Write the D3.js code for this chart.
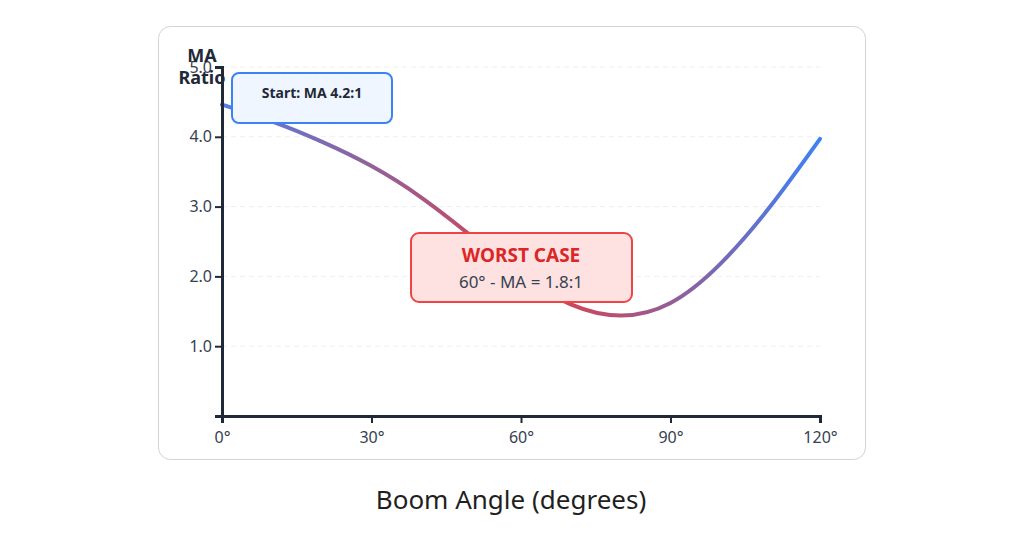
<!DOCTYPE html>
<html><head><meta charset="utf-8">
<script src="https://cdn.jsdelivr.net/npm/d3@7"></script>
<style>
body{margin:0;background:#fff;font-family:"Segoe UI","Noto Sans","Open Sans",sans-serif;}
</style></head>
<body><div id="chart"></div>
<script>
// boom angle vs mechanical advantage
const angles = [0, 10, 20, 30, 40, 50, 60, 70, 80, 90, 100, 110, 120];
const maValues = [4.46, 4.22, 3.93, 3.58, 3.13, 2.58, 2.02, 1.6, 1.44, 1.62, 2.18, 3.0, 3.97];
const xTicks = [0, 30, 60, 90, 120];
const yTicks = [1, 2, 3, 4, 5];

const W = 1024, H = 536;
const margin = {left: 222, right: 204, top: 67, bottom: 120};
const svg = d3.select("#chart").append("svg").attr("width", W).attr("height", H);

// card
svg.append("rect").attr("x", 158.5).attr("y", 26.5).attr("width", 707).attr("height", 433)
    .attr("rx", 12).attr("fill", "#fff").attr("stroke", "#d4d4d8").attr("stroke-width", 1);

const x = d3.scaleLinear().domain([0, 120]).range([margin.left, W - margin.right]);
const y = d3.scaleLinear().domain([0, 5]).range([H - margin.bottom, margin.top]);

// gradient
const defs = svg.append("defs");
const grad = defs.append("linearGradient").attr("id", "lineGrad")
    .attr("gradientUnits", "userSpaceOnUse")
    .attr("x1", x(0)).attr("x2", x(120)).attr("y1", 0).attr("y2", 0);
[[0, "#4f7fe6"], [0.45, "#c9485e"], [0.6, "#c9485e"], [1, "#3b82f6"]].forEach(s =>
    grad.append("stop").attr("offset", s[0]).attr("stop-color", s[1]));

// grid
svg.append("g").selectAll("line").data(yTicks).join("line")
    .attr("x1", x(0)).attr("x2", x(120))
    .attr("y1", d => y(d)).attr("y2", d => y(d))
    .attr("stroke", "#eceef1").attr("stroke-dasharray", "5,4");

// line
const line = d3.line().x((d, i) => x(angles[i])).y(d => y(d)).curve(d3.curveNatural);
svg.append("path").datum(maValues).attr("d", line)
    .attr("fill", "none").attr("stroke", "url(#lineGrad)").attr("stroke-width", 4)
    .attr("stroke-linecap", "round");

// axes
const xAxis = svg.append("g").attr("transform", `translate(0,${y(0)})`)
    .call(d3.axisBottom(x).tickValues(xTicks).tickFormat(d => d + "°").tickSizeOuter(0).tickSize(7));
const yAxis = svg.append("g").attr("transform", `translate(${x(0)},0)`)
    .call(d3.axisLeft(y).tickValues(yTicks).tickFormat(d3.format(".1f")).tickSizeOuter(0).tickSize(7));
[xAxis, yAxis].forEach(a => {
    a.select(".domain").attr("stroke", "#1f2937").attr("stroke-width", 3);
    a.selectAll(".tick line").attr("stroke", "#1f2937").attr("stroke-width", 2);
    a.selectAll("text").attr("font-size", 16).attr("fill", "#374151")
        .attr("font-family", "'Segoe UI','Noto Sans',sans-serif");
});
xAxis.selectAll("text").attr("dy", "1.05em");

// y label
const yl = svg.append("text").attr("font-size", 18).attr("font-weight", "bold")
    .attr("fill", "#1f2937").attr("text-anchor", "middle");
yl.append("tspan").attr("x", 202).attr("y", 62).text("MA");
yl.append("tspan").attr("x", 202).attr("y", 84).text("Ratio");

// start annotation
svg.append("rect").attr("x", 232).attr("y", 73).attr("width", 160).attr("height", 50).attr("rx", 7)
    .attr("fill", "#eff6ff").attr("stroke", "#3b82f6").attr("stroke-width", 2);
svg.append("text").attr("x", 312).attr("y", 98).attr("text-anchor", "middle")
    .attr("font-size", 14).attr("font-weight", "bold").attr("fill", "#1f2937").text("Start: MA 4.2:1");

// worst case annotation
svg.append("rect").attr("x", 411).attr("y", 233).attr("width", 221).attr("height", 69).attr("rx", 8)
    .attr("fill", "#fee2e2").attr("stroke", "#ef4444").attr("stroke-width", 2);
svg.append("text").attr("x", 521).attr("y", 262).attr("text-anchor", "middle")
    .attr("font-size", 19).attr("font-weight", "bold").attr("fill", "#dc2626").text("WORST CASE");
svg.append("text").attr("x", 521).attr("y", 288).attr("text-anchor", "middle")
    .attr("font-size", 17).attr("fill", "#374151").text("60° - MA = 1.8:1");

// x label
svg.append("text").attr("x", 511).attr("y", 509).attr("text-anchor", "middle")
    .attr("font-size", 26).attr("fill", "#1f1f1f").text("Boom Angle (degrees)");
</script></body></html>
